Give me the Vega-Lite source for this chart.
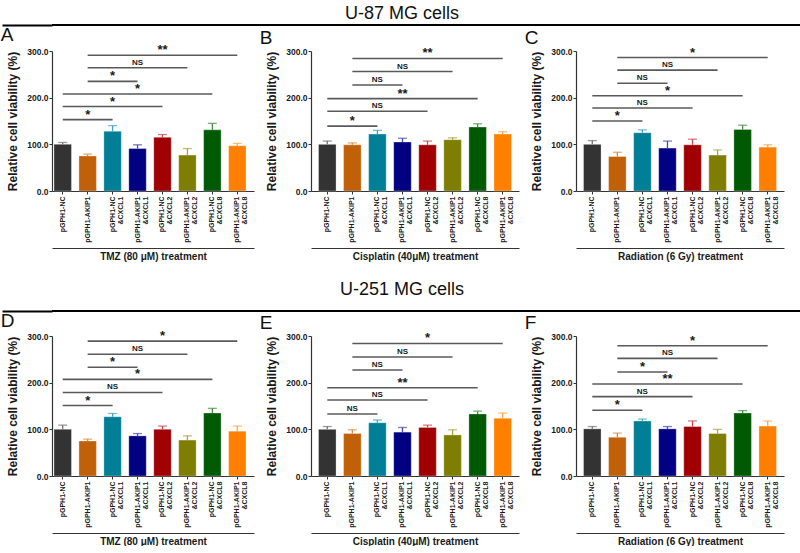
{
  "$schema": "https://vega.github.io/schema/vega-lite/v6.json",
  "padding": 0,
  "background": "white",
  "columns": 1,
  "spacing": 0,
  "config": {
    "font": "Liberation Sans",
    "view": {"stroke": null},
    "scale": {"bandPaddingInner": 0.3, "bandPaddingOuter": 0.3},
    "axis": {"domainColor": "#333333", "domainWidth": 1.2, "tickColor": "#333333", "labelColor": "#1a1a1a", "titleColor": "#1a1a1a", "labelFontWeight": "bold", "titleFontWeight": "bold", "grid": false, "labelFont": "Liberation Sans", "titleFont": "Liberation Sans"},
    "axisY": {"labelFontSize": 8.5, "titleFontSize": 12, "tickSize": 3, "labelPadding": 1, "titlePadding": 7},
    "bar": {"stroke": "#ffffff", "strokeOpacity": 0.3, "strokeWidth": 1},
    "title": {"fontSize": 19, "fontWeight": "normal", "anchor": "start", "frame": "bounds", "offset": -1, "dx": -6, "color": "#111111", "font": "Liberation Sans"},
    "text": {"font": "Liberation Sans"}
  },
  "datasets": {
    "bars": [
      {"p":"A","g":"pGPH1-NC","v":100,"hi":104},
      {"p":"A","g":"pGPH1-AKIP1","v":75,"hi":79},
      {"p":"A","g":"pGPH1-NC|&CXCL1","v":128,"hi":140},
      {"p":"A","g":"pGPH1-AKIP1|&CXCL1","v":91,"hi":99},
      {"p":"A","g":"pGPH1-NC|&CXCL2","v":115,"hi":121},
      {"p":"A","g":"pGPH1-AKIP1|&CXCL2","v":77,"hi":91},
      {"p":"A","g":"pGPH1-NC|&CXCL8","v":131,"hi":145},
      {"p":"A","g":"pGPH1-AKIP1|&CXCL8","v":97,"hi":102},
      {"p":"B","g":"pGPH1-NC","v":100,"hi":107},
      {"p":"B","g":"pGPH1-AKIP1","v":99,"hi":103},
      {"p":"B","g":"pGPH1-NC|&CXCL1","v":122,"hi":130},
      {"p":"B","g":"pGPH1-AKIP1|&CXCL1","v":105,"hi":113},
      {"p":"B","g":"pGPH1-NC|&CXCL2","v":99,"hi":107},
      {"p":"B","g":"pGPH1-AKIP1|&CXCL2","v":110,"hi":114},
      {"p":"B","g":"pGPH1-NC|&CXCL8","v":137,"hi":144},
      {"p":"B","g":"pGPH1-AKIP1|&CXCL8","v":122,"hi":127},
      {"p":"C","g":"pGPH1-NC","v":100,"hi":108},
      {"p":"C","g":"pGPH1-AKIP1","v":74,"hi":83},
      {"p":"C","g":"pGPH1-NC|&CXCL1","v":125,"hi":131},
      {"p":"C","g":"pGPH1-AKIP1|&CXCL1","v":92,"hi":107},
      {"p":"C","g":"pGPH1-NC|&CXCL2","v":99,"hi":111},
      {"p":"C","g":"pGPH1-AKIP1|&CXCL2","v":77,"hi":88},
      {"p":"C","g":"pGPH1-NC|&CXCL8","v":132,"hi":141},
      {"p":"C","g":"pGPH1-AKIP1|&CXCL8","v":94,"hi":99},
      {"p":"D","g":"pGPH1-NC","v":100,"hi":109},
      {"p":"D","g":"pGPH1-AKIP1","v":75,"hi":79},
      {"p":"D","g":"pGPH1-NC|&CXCL1","v":127,"hi":134},
      {"p":"D","g":"pGPH1-AKIP1|&CXCL1","v":86,"hi":91},
      {"p":"D","g":"pGPH1-NC|&CXCL2","v":100,"hi":107},
      {"p":"D","g":"pGPH1-AKIP1|&CXCL2","v":77,"hi":86},
      {"p":"D","g":"pGPH1-NC|&CXCL8","v":135,"hi":145},
      {"p":"D","g":"pGPH1-AKIP1|&CXCL8","v":96,"hi":107},
      {"p":"E","g":"pGPH1-NC","v":100,"hi":106},
      {"p":"E","g":"pGPH1-AKIP1","v":91,"hi":99},
      {"p":"E","g":"pGPH1-NC|&CXCL1","v":114,"hi":120},
      {"p":"E","g":"pGPH1-AKIP1|&CXCL1","v":94,"hi":104},
      {"p":"E","g":"pGPH1-NC|&CXCL2","v":104,"hi":109},
      {"p":"E","g":"pGPH1-AKIP1|&CXCL2","v":88,"hi":99},
      {"p":"E","g":"pGPH1-NC|&CXCL8","v":133,"hi":139},
      {"p":"E","g":"pGPH1-AKIP1|&CXCL8","v":124,"hi":135},
      {"p":"F","g":"pGPH1-NC","v":101,"hi":106},
      {"p":"F","g":"pGPH1-AKIP1","v":83,"hi":92},
      {"p":"F","g":"pGPH1-NC|&CXCL1","v":118,"hi":122},
      {"p":"F","g":"pGPH1-AKIP1|&CXCL1","v":101,"hi":106},
      {"p":"F","g":"pGPH1-NC|&CXCL2","v":106,"hi":118},
      {"p":"F","g":"pGPH1-AKIP1|&CXCL2","v":91,"hi":100},
      {"p":"F","g":"pGPH1-NC|&CXCL8","v":135,"hi":140},
      {"p":"F","g":"pGPH1-AKIP1|&CXCL8","v":107,"hi":118}
    ],
    "sig": [
      {"p":"A","a":"pGPH1-NC","b":"pGPH1-NC|&CXCL1","m":"pGPH1-AKIP1","y":153,"s":"*"},
      {"p":"A","a":"pGPH1-NC","b":"pGPH1-NC|&CXCL2","m":"pGPH1-NC|&CXCL1","y":181,"s":"*"},
      {"p":"A","a":"pGPH1-NC","b":"pGPH1-NC|&CXCL8","m":"pGPH1-AKIP1|&CXCL1","y":208,"s":"*"},
      {"p":"A","a":"pGPH1-AKIP1","b":"pGPH1-AKIP1|&CXCL1","m":"pGPH1-NC|&CXCL1","y":235,"s":"*"},
      {"p":"A","a":"pGPH1-AKIP1","b":"pGPH1-AKIP1|&CXCL2","m":"pGPH1-AKIP1|&CXCL1","y":264,"s":"NS"},
      {"p":"A","a":"pGPH1-AKIP1","b":"pGPH1-AKIP1|&CXCL8","m":"pGPH1-NC|&CXCL2","y":291,"s":"**"},
      {"p":"B","a":"pGPH1-NC","b":"pGPH1-NC|&CXCL1","m":"pGPH1-AKIP1","y":139,"s":"*"},
      {"p":"B","a":"pGPH1-NC","b":"pGPH1-NC|&CXCL2","m":"pGPH1-NC|&CXCL1","y":171,"s":"NS"},
      {"p":"B","a":"pGPH1-NC","b":"pGPH1-NC|&CXCL8","m":"pGPH1-AKIP1|&CXCL1","y":198,"s":"**"},
      {"p":"B","a":"pGPH1-AKIP1","b":"pGPH1-AKIP1|&CXCL1","m":"pGPH1-NC|&CXCL1","y":227,"s":"NS"},
      {"p":"B","a":"pGPH1-AKIP1","b":"pGPH1-AKIP1|&CXCL2","m":"pGPH1-AKIP1|&CXCL1","y":256,"s":"NS"},
      {"p":"B","a":"pGPH1-AKIP1","b":"pGPH1-AKIP1|&CXCL8","m":"pGPH1-NC|&CXCL2","y":284,"s":"**"},
      {"p":"C","a":"pGPH1-NC","b":"pGPH1-NC|&CXCL1","m":"pGPH1-AKIP1","y":150,"s":"*"},
      {"p":"C","a":"pGPH1-NC","b":"pGPH1-NC|&CXCL2","m":"pGPH1-NC|&CXCL1","y":178,"s":"NS"},
      {"p":"C","a":"pGPH1-NC","b":"pGPH1-NC|&CXCL8","m":"pGPH1-AKIP1|&CXCL1","y":204,"s":"*"},
      {"p":"C","a":"pGPH1-AKIP1","b":"pGPH1-AKIP1|&CXCL1","m":"pGPH1-NC|&CXCL1","y":231,"s":"NS"},
      {"p":"C","a":"pGPH1-AKIP1","b":"pGPH1-AKIP1|&CXCL2","m":"pGPH1-AKIP1|&CXCL1","y":259,"s":"NS"},
      {"p":"C","a":"pGPH1-AKIP1","b":"pGPH1-AKIP1|&CXCL8","m":"pGPH1-NC|&CXCL2","y":286,"s":"*"},
      {"p":"D","a":"pGPH1-NC","b":"pGPH1-NC|&CXCL1","m":"pGPH1-AKIP1","y":151,"s":"*"},
      {"p":"D","a":"pGPH1-NC","b":"pGPH1-NC|&CXCL2","m":"pGPH1-NC|&CXCL1","y":179,"s":"NS"},
      {"p":"D","a":"pGPH1-NC","b":"pGPH1-NC|&CXCL8","m":"pGPH1-AKIP1|&CXCL1","y":207,"s":"*"},
      {"p":"D","a":"pGPH1-AKIP1","b":"pGPH1-AKIP1|&CXCL1","m":"pGPH1-NC|&CXCL1","y":233,"s":"*"},
      {"p":"D","a":"pGPH1-AKIP1","b":"pGPH1-AKIP1|&CXCL2","m":"pGPH1-AKIP1|&CXCL1","y":261,"s":"NS"},
      {"p":"D","a":"pGPH1-AKIP1","b":"pGPH1-AKIP1|&CXCL8","m":"pGPH1-NC|&CXCL2","y":289,"s":"*"},
      {"p":"E","a":"pGPH1-NC","b":"pGPH1-NC|&CXCL1","m":"pGPH1-AKIP1","y":133,"s":"NS"},
      {"p":"E","a":"pGPH1-NC","b":"pGPH1-NC|&CXCL2","m":"pGPH1-NC|&CXCL1","y":163,"s":"NS"},
      {"p":"E","a":"pGPH1-NC","b":"pGPH1-NC|&CXCL8","m":"pGPH1-AKIP1|&CXCL1","y":189,"s":"**"},
      {"p":"E","a":"pGPH1-AKIP1","b":"pGPH1-AKIP1|&CXCL1","m":"pGPH1-NC|&CXCL1","y":227,"s":"NS"},
      {"p":"E","a":"pGPH1-AKIP1","b":"pGPH1-AKIP1|&CXCL2","m":"pGPH1-AKIP1|&CXCL1","y":255,"s":"NS"},
      {"p":"E","a":"pGPH1-AKIP1","b":"pGPH1-AKIP1|&CXCL8","m":"pGPH1-NC|&CXCL2","y":284,"s":"*"},
      {"p":"F","a":"pGPH1-NC","b":"pGPH1-NC|&CXCL1","m":"pGPH1-AKIP1","y":141,"s":"*"},
      {"p":"F","a":"pGPH1-NC","b":"pGPH1-NC|&CXCL2","m":"pGPH1-NC|&CXCL1","y":170,"s":"NS"},
      {"p":"F","a":"pGPH1-NC","b":"pGPH1-NC|&CXCL8","m":"pGPH1-AKIP1|&CXCL1","y":197,"s":"**"},
      {"p":"F","a":"pGPH1-AKIP1","b":"pGPH1-AKIP1|&CXCL1","m":"pGPH1-NC|&CXCL1","y":223,"s":"*"},
      {"p":"F","a":"pGPH1-AKIP1","b":"pGPH1-AKIP1|&CXCL2","m":"pGPH1-AKIP1|&CXCL1","y":252,"s":"NS"},
      {"p":"F","a":"pGPH1-AKIP1","b":"pGPH1-AKIP1|&CXCL8","m":"pGPH1-NC|&CXCL2","y":279,"s":"*"}
    ]
  },
  "concat": [
    {
      "width": 750, "height": 25,
      "data": {"values": [{"t": "U-87 MG cells"}]},
      "layer": [
        {"mark": {"type": "text", "fontSize": 18, "dy": 1, "dx": -25, "color": "#111111"}, "encoding": {"text": {"field": "t"}}},
        {"mark": {"type": "rule", "color": "#000000", "strokeWidth": 2}, "encoding": {"y": {"datum": 0, "type": "quantitative", "scale": {"domain": [0, 1]}, "axis": {"values": [0], "tickSize": 50, "tickWidth": 2, "tickColor": "#000000", "domain": false, "labels": false, "title": null}}}}
      ]
    },
    {
      "spacing": 5,
      "hconcat": [
        {"title": {"text": "A"}, "width": 202, "height": 140, "resolve": {"axis": {"x": "independent", "y": "independent"}, "scale": {"color": "independent"}},
          "layer": [
            {"data": {"name": "bars"}, "transform": [{"filter": "datum.p === 'A'"}], "mark": {"type": "bar"},
             "encoding": {"x": {"field": "g", "type": "nominal", "scale": {"domain": ["pGPH1-NC","pGPH1-AKIP1","pGPH1-NC|&CXCL1","pGPH1-AKIP1|&CXCL1","pGPH1-NC|&CXCL2","pGPH1-AKIP1|&CXCL2","pGPH1-NC|&CXCL8","pGPH1-AKIP1|&CXCL8"], "paddingOuter": 0.2, "align": 0.2}, "axis": {"title": null, "labelAngle": 270, "labelAlign": "right", "labelBaseline": "middle", "labelFontSize": 7, "labelLineHeight": 8, "labelExpr": "split(datum.label, '|')", "labelOverlap": false, "tickSize": 3, "labelPadding": 2}},
                          "y": {"field": "v", "type": "quantitative", "scale": {"domain": [0, 300], "nice": false}, "axis": {"title": "Relative cell viability (%)", "values": [0, 100, 200, 300], "format": ".1f"}},
                          "color": {"field": "g", "type": "nominal", "scale": {"domain": ["pGPH1-NC","pGPH1-AKIP1","pGPH1-NC|&CXCL1","pGPH1-AKIP1|&CXCL1","pGPH1-NC|&CXCL2","pGPH1-AKIP1|&CXCL2","pGPH1-NC|&CXCL8","pGPH1-AKIP1|&CXCL8"], "range": ["#333333","#C06008","#007F96","#000082","#A00004","#7E7E04","#005A04","#FF8000"]}, "legend": null}}},
            {"data": {"name": "bars"}, "transform": [{"filter": "datum.p === 'A'"}], "mark": {"type": "rule", "strokeWidth": 1.3},
             "encoding": {"x": {"field": "g", "type": "nominal", "scale": {"domain": ["pGPH1-NC","pGPH1-AKIP1","pGPH1-NC|&CXCL1","pGPH1-AKIP1|&CXCL1","pGPH1-NC|&CXCL2","pGPH1-AKIP1|&CXCL2","pGPH1-NC|&CXCL8","pGPH1-AKIP1|&CXCL8"], "paddingOuter": 0.2, "align": 0.2}, "axis": null},
                          "y": {"field": "v", "type": "quantitative", "scale": {"domain": [0, 300], "nice": false}, "axis": null}, "y2": {"field": "hi"},
                          "color": {"field": "g", "type": "nominal", "scale": {"domain": ["pGPH1-NC","pGPH1-AKIP1","pGPH1-NC|&CXCL1","pGPH1-AKIP1|&CXCL1","pGPH1-NC|&CXCL2","pGPH1-AKIP1|&CXCL2","pGPH1-NC|&CXCL8","pGPH1-AKIP1|&CXCL8"], "range": ["#707070","#D88A44","#40A2B6","#4646B0","#C4464C","#A4A444","#448C44","#FFA448"]}, "legend": null}}},
            {"data": {"name": "bars"}, "transform": [{"filter": "datum.p === 'A'"}], "mark": {"type": "tick", "size": 9, "thickness": 1.3},
             "encoding": {"x": {"field": "g", "type": "nominal", "scale": {"domain": ["pGPH1-NC","pGPH1-AKIP1","pGPH1-NC|&CXCL1","pGPH1-AKIP1|&CXCL1","pGPH1-NC|&CXCL2","pGPH1-AKIP1|&CXCL2","pGPH1-NC|&CXCL8","pGPH1-AKIP1|&CXCL8"], "paddingOuter": 0.2, "align": 0.2}, "axis": null},
                          "y": {"field": "hi", "type": "quantitative", "scale": {"domain": [0, 300], "nice": false}, "axis": null},
                          "color": {"field": "g", "type": "nominal", "scale": {"domain": ["pGPH1-NC","pGPH1-AKIP1","pGPH1-NC|&CXCL1","pGPH1-AKIP1|&CXCL1","pGPH1-NC|&CXCL2","pGPH1-AKIP1|&CXCL2","pGPH1-NC|&CXCL8","pGPH1-AKIP1|&CXCL8"], "range": ["#707070","#D88A44","#40A2B6","#4646B0","#C4464C","#A4A444","#448C44","#FFA448"]}, "legend": null}}},
            {"data": {"name": "sig"}, "transform": [{"filter": "datum.p === 'A'"}], "mark": {"type": "rule", "color": "#5a5a5a", "strokeWidth": 1.6},
             "encoding": {"x": {"field": "a", "type": "nominal", "scale": {"domain": ["pGPH1-NC","pGPH1-AKIP1","pGPH1-NC|&CXCL1","pGPH1-AKIP1|&CXCL1","pGPH1-NC|&CXCL2","pGPH1-AKIP1|&CXCL2","pGPH1-NC|&CXCL8","pGPH1-AKIP1|&CXCL8"], "paddingOuter": 0.2, "align": 0.2}, "axis": {"orient": "bottom", "offset": 57, "labels": false, "ticks": false, "title": "TMZ (80 μM) treatment", "titleFontSize": 10, "titlePadding": 3}},
                          "x2": {"field": "b"},
                          "y": {"field": "y", "type": "quantitative", "scale": {"domain": [0, 300], "nice": false}, "axis": null}}},
            {"data": {"name": "sig"}, "transform": [{"filter": "datum.p === 'A'"}], "mark": {"type": "text", "fontWeight": "bold", "baseline": "middle", "dy": -5, "color": "#1a1a1a"},
             "encoding": {"x": {"field": "m", "type": "nominal", "scale": {"domain": ["pGPH1-NC","pGPH1-AKIP1","pGPH1-NC|&CXCL1","pGPH1-AKIP1|&CXCL1","pGPH1-NC|&CXCL2","pGPH1-AKIP1|&CXCL2","pGPH1-NC|&CXCL8","pGPH1-AKIP1|&CXCL8"], "paddingOuter": 0.2, "align": 0.2}, "axis": null},
                          "y": {"field": "y", "type": "quantitative", "scale": {"domain": [0, 300], "nice": false}, "axis": null},
                          "text": {"field": "s"},
                          "size": {"field": "s", "type": "nominal", "scale": {"type": "ordinal", "domain": ["*", "**", "NS"], "range": [13, 13, 8]}, "legend": null}}}
          ]
        },
        {"title": {"text": "B"}, "width": 208, "height": 140, "resolve": {"axis": {"x": "independent", "y": "independent"}, "scale": {"color": "independent"}},
          "layer": [
            {"data": {"name": "bars"}, "transform": [{"filter": "datum.p === 'B'"}], "mark": {"type": "bar"},
             "encoding": {"x": {"field": "g", "type": "nominal", "scale": {"domain": ["pGPH1-NC","pGPH1-AKIP1","pGPH1-NC|&CXCL1","pGPH1-AKIP1|&CXCL1","pGPH1-NC|&CXCL2","pGPH1-AKIP1|&CXCL2","pGPH1-NC|&CXCL8","pGPH1-AKIP1|&CXCL8"]}, "axis": {"title": null, "labelAngle": 270, "labelAlign": "right", "labelBaseline": "middle", "labelFontSize": 7, "labelLineHeight": 8, "labelExpr": "split(datum.label, '|')", "labelOverlap": false, "tickSize": 3, "labelPadding": 2}},
                          "y": {"field": "v", "type": "quantitative", "scale": {"domain": [0, 300], "nice": false}, "axis": {"title": "Relative cell viability (%)", "values": [0, 100, 200, 300], "format": ".1f"}},
                          "color": {"field": "g", "type": "nominal", "scale": {"domain": ["pGPH1-NC","pGPH1-AKIP1","pGPH1-NC|&CXCL1","pGPH1-AKIP1|&CXCL1","pGPH1-NC|&CXCL2","pGPH1-AKIP1|&CXCL2","pGPH1-NC|&CXCL8","pGPH1-AKIP1|&CXCL8"], "range": ["#333333","#C06008","#007F96","#000082","#A00004","#7E7E04","#005A04","#FF8000"]}, "legend": null}}},
            {"data": {"name": "bars"}, "transform": [{"filter": "datum.p === 'B'"}], "mark": {"type": "rule", "strokeWidth": 1.3},
             "encoding": {"x": {"field": "g", "type": "nominal", "scale": {"domain": ["pGPH1-NC","pGPH1-AKIP1","pGPH1-NC|&CXCL1","pGPH1-AKIP1|&CXCL1","pGPH1-NC|&CXCL2","pGPH1-AKIP1|&CXCL2","pGPH1-NC|&CXCL8","pGPH1-AKIP1|&CXCL8"]}, "axis": null},
                          "y": {"field": "v", "type": "quantitative", "scale": {"domain": [0, 300], "nice": false}, "axis": null}, "y2": {"field": "hi"},
                          "color": {"field": "g", "type": "nominal", "scale": {"domain": ["pGPH1-NC","pGPH1-AKIP1","pGPH1-NC|&CXCL1","pGPH1-AKIP1|&CXCL1","pGPH1-NC|&CXCL2","pGPH1-AKIP1|&CXCL2","pGPH1-NC|&CXCL8","pGPH1-AKIP1|&CXCL8"], "range": ["#707070","#D88A44","#40A2B6","#4646B0","#C4464C","#A4A444","#448C44","#FFA448"]}, "legend": null}}},
            {"data": {"name": "bars"}, "transform": [{"filter": "datum.p === 'B'"}], "mark": {"type": "tick", "size": 9, "thickness": 1.3},
             "encoding": {"x": {"field": "g", "type": "nominal", "scale": {"domain": ["pGPH1-NC","pGPH1-AKIP1","pGPH1-NC|&CXCL1","pGPH1-AKIP1|&CXCL1","pGPH1-NC|&CXCL2","pGPH1-AKIP1|&CXCL2","pGPH1-NC|&CXCL8","pGPH1-AKIP1|&CXCL8"]}, "axis": null},
                          "y": {"field": "hi", "type": "quantitative", "scale": {"domain": [0, 300], "nice": false}, "axis": null},
                          "color": {"field": "g", "type": "nominal", "scale": {"domain": ["pGPH1-NC","pGPH1-AKIP1","pGPH1-NC|&CXCL1","pGPH1-AKIP1|&CXCL1","pGPH1-NC|&CXCL2","pGPH1-AKIP1|&CXCL2","pGPH1-NC|&CXCL8","pGPH1-AKIP1|&CXCL8"], "range": ["#707070","#D88A44","#40A2B6","#4646B0","#C4464C","#A4A444","#448C44","#FFA448"]}, "legend": null}}},
            {"data": {"name": "sig"}, "transform": [{"filter": "datum.p === 'B'"}], "mark": {"type": "rule", "color": "#5a5a5a", "strokeWidth": 1.6},
             "encoding": {"x": {"field": "a", "type": "nominal", "scale": {"domain": ["pGPH1-NC","pGPH1-AKIP1","pGPH1-NC|&CXCL1","pGPH1-AKIP1|&CXCL1","pGPH1-NC|&CXCL2","pGPH1-AKIP1|&CXCL2","pGPH1-NC|&CXCL8","pGPH1-AKIP1|&CXCL8"]}, "axis": {"orient": "bottom", "offset": 57, "labels": false, "ticks": false, "title": "Cisplatin (40μM) treatment", "titleFontSize": 10, "titlePadding": 3}},
                          "x2": {"field": "b"},
                          "y": {"field": "y", "type": "quantitative", "scale": {"domain": [0, 300], "nice": false}, "axis": null}}},
            {"data": {"name": "sig"}, "transform": [{"filter": "datum.p === 'B'"}], "mark": {"type": "text", "fontWeight": "bold", "baseline": "middle", "dy": -5, "color": "#1a1a1a"},
             "encoding": {"x": {"field": "m", "type": "nominal", "scale": {"domain": ["pGPH1-NC","pGPH1-AKIP1","pGPH1-NC|&CXCL1","pGPH1-AKIP1|&CXCL1","pGPH1-NC|&CXCL2","pGPH1-AKIP1|&CXCL2","pGPH1-NC|&CXCL8","pGPH1-AKIP1|&CXCL8"]}, "axis": null},
                          "y": {"field": "y", "type": "quantitative", "scale": {"domain": [0, 300], "nice": false}, "axis": null},
                          "text": {"field": "s"},
                          "size": {"field": "s", "type": "nominal", "scale": {"type": "ordinal", "domain": ["*", "**", "NS"], "range": [13, 13, 8]}, "legend": null}}}
          ]
        },
        {"title": {"text": "C"}, "width": 208, "height": 140, "resolve": {"axis": {"x": "independent", "y": "independent"}, "scale": {"color": "independent"}},
          "layer": [
            {"data": {"name": "bars"}, "transform": [{"filter": "datum.p === 'C'"}], "mark": {"type": "bar"},
             "encoding": {"x": {"field": "g", "type": "nominal", "scale": {"domain": ["pGPH1-NC","pGPH1-AKIP1","pGPH1-NC|&CXCL1","pGPH1-AKIP1|&CXCL1","pGPH1-NC|&CXCL2","pGPH1-AKIP1|&CXCL2","pGPH1-NC|&CXCL8","pGPH1-AKIP1|&CXCL8"]}, "axis": {"title": null, "labelAngle": 270, "labelAlign": "right", "labelBaseline": "middle", "labelFontSize": 7, "labelLineHeight": 8, "labelExpr": "split(datum.label, '|')", "labelOverlap": false, "tickSize": 3, "labelPadding": 2}},
                          "y": {"field": "v", "type": "quantitative", "scale": {"domain": [0, 300], "nice": false}, "axis": {"title": "Relative cell viability (%)", "values": [0, 100, 200, 300], "format": ".1f"}},
                          "color": {"field": "g", "type": "nominal", "scale": {"domain": ["pGPH1-NC","pGPH1-AKIP1","pGPH1-NC|&CXCL1","pGPH1-AKIP1|&CXCL1","pGPH1-NC|&CXCL2","pGPH1-AKIP1|&CXCL2","pGPH1-NC|&CXCL8","pGPH1-AKIP1|&CXCL8"], "range": ["#333333","#C06008","#007F96","#000082","#A00004","#7E7E04","#005A04","#FF8000"]}, "legend": null}}},
            {"data": {"name": "bars"}, "transform": [{"filter": "datum.p === 'C'"}], "mark": {"type": "rule", "strokeWidth": 1.3},
             "encoding": {"x": {"field": "g", "type": "nominal", "scale": {"domain": ["pGPH1-NC","pGPH1-AKIP1","pGPH1-NC|&CXCL1","pGPH1-AKIP1|&CXCL1","pGPH1-NC|&CXCL2","pGPH1-AKIP1|&CXCL2","pGPH1-NC|&CXCL8","pGPH1-AKIP1|&CXCL8"]}, "axis": null},
                          "y": {"field": "v", "type": "quantitative", "scale": {"domain": [0, 300], "nice": false}, "axis": null}, "y2": {"field": "hi"},
                          "color": {"field": "g", "type": "nominal", "scale": {"domain": ["pGPH1-NC","pGPH1-AKIP1","pGPH1-NC|&CXCL1","pGPH1-AKIP1|&CXCL1","pGPH1-NC|&CXCL2","pGPH1-AKIP1|&CXCL2","pGPH1-NC|&CXCL8","pGPH1-AKIP1|&CXCL8"], "range": ["#707070","#D88A44","#40A2B6","#4646B0","#C4464C","#A4A444","#448C44","#FFA448"]}, "legend": null}}},
            {"data": {"name": "bars"}, "transform": [{"filter": "datum.p === 'C'"}], "mark": {"type": "tick", "size": 9, "thickness": 1.3},
             "encoding": {"x": {"field": "g", "type": "nominal", "scale": {"domain": ["pGPH1-NC","pGPH1-AKIP1","pGPH1-NC|&CXCL1","pGPH1-AKIP1|&CXCL1","pGPH1-NC|&CXCL2","pGPH1-AKIP1|&CXCL2","pGPH1-NC|&CXCL8","pGPH1-AKIP1|&CXCL8"]}, "axis": null},
                          "y": {"field": "hi", "type": "quantitative", "scale": {"domain": [0, 300], "nice": false}, "axis": null},
                          "color": {"field": "g", "type": "nominal", "scale": {"domain": ["pGPH1-NC","pGPH1-AKIP1","pGPH1-NC|&CXCL1","pGPH1-AKIP1|&CXCL1","pGPH1-NC|&CXCL2","pGPH1-AKIP1|&CXCL2","pGPH1-NC|&CXCL8","pGPH1-AKIP1|&CXCL8"], "range": ["#707070","#D88A44","#40A2B6","#4646B0","#C4464C","#A4A444","#448C44","#FFA448"]}, "legend": null}}},
            {"data": {"name": "sig"}, "transform": [{"filter": "datum.p === 'C'"}], "mark": {"type": "rule", "color": "#5a5a5a", "strokeWidth": 1.6},
             "encoding": {"x": {"field": "a", "type": "nominal", "scale": {"domain": ["pGPH1-NC","pGPH1-AKIP1","pGPH1-NC|&CXCL1","pGPH1-AKIP1|&CXCL1","pGPH1-NC|&CXCL2","pGPH1-AKIP1|&CXCL2","pGPH1-NC|&CXCL8","pGPH1-AKIP1|&CXCL8"]}, "axis": {"orient": "bottom", "offset": 57, "labels": false, "ticks": false, "title": "Radiation (6 Gy)  treatment", "titleFontSize": 10, "titlePadding": 3}},
                          "x2": {"field": "b"},
                          "y": {"field": "y", "type": "quantitative", "scale": {"domain": [0, 300], "nice": false}, "axis": null}}},
            {"data": {"name": "sig"}, "transform": [{"filter": "datum.p === 'C'"}], "mark": {"type": "text", "fontWeight": "bold", "baseline": "middle", "dy": -5, "color": "#1a1a1a"},
             "encoding": {"x": {"field": "m", "type": "nominal", "scale": {"domain": ["pGPH1-NC","pGPH1-AKIP1","pGPH1-NC|&CXCL1","pGPH1-AKIP1|&CXCL1","pGPH1-NC|&CXCL2","pGPH1-AKIP1|&CXCL2","pGPH1-NC|&CXCL8","pGPH1-AKIP1|&CXCL8"]}, "axis": null},
                          "y": {"field": "y", "type": "quantitative", "scale": {"domain": [0, 300], "nice": false}, "axis": null},
                          "text": {"field": "s"},
                          "size": {"field": "s", "type": "nominal", "scale": {"type": "ordinal", "domain": ["*", "**", "NS"], "range": [13, 13, 8]}, "legend": null}}}
          ]
        }
      ]
    },
    {
      "width": 750, "height": 50,
      "data": {"values": [{"t": "U-251 MG cells"}]},
      "layer": [
        {"mark": {"type": "text", "fontSize": 18, "dy": 4, "dx": -25, "color": "#111111"}, "encoding": {"text": {"field": "t"}}},
        {"mark": {"type": "rule", "color": "#000000", "strokeWidth": 2}, "encoding": {"y": {"datum": 0, "type": "quantitative", "scale": {"domain": [0, 1]}, "axis": {"values": [0], "tickSize": 50, "tickWidth": 2, "tickColor": "#000000", "domain": false, "labels": false, "title": null}}}}
      ]
    },
    {
      "spacing": 5,
      "hconcat": [
        {"title": {"text": "D"}, "width": 202, "height": 140, "resolve": {"axis": {"x": "independent", "y": "independent"}, "scale": {"color": "independent"}},
          "layer": [
            {"data": {"name": "bars"}, "transform": [{"filter": "datum.p === 'D'"}], "mark": {"type": "bar"},
             "encoding": {"x": {"field": "g", "type": "nominal", "scale": {"domain": ["pGPH1-NC","pGPH1-AKIP1","pGPH1-NC|&CXCL1","pGPH1-AKIP1|&CXCL1","pGPH1-NC|&CXCL2","pGPH1-AKIP1|&CXCL2","pGPH1-NC|&CXCL8","pGPH1-AKIP1|&CXCL8"], "paddingOuter": 0.2, "align": 0.2}, "axis": {"title": null, "labelAngle": 270, "labelAlign": "right", "labelBaseline": "middle", "labelFontSize": 7, "labelLineHeight": 8, "labelExpr": "split(datum.label, '|')", "labelOverlap": false, "tickSize": 3, "labelPadding": 2}},
                          "y": {"field": "v", "type": "quantitative", "scale": {"domain": [0, 300], "nice": false}, "axis": {"title": "Relative cell viability (%)", "values": [0, 100, 200, 300], "format": ".1f"}},
                          "color": {"field": "g", "type": "nominal", "scale": {"domain": ["pGPH1-NC","pGPH1-AKIP1","pGPH1-NC|&CXCL1","pGPH1-AKIP1|&CXCL1","pGPH1-NC|&CXCL2","pGPH1-AKIP1|&CXCL2","pGPH1-NC|&CXCL8","pGPH1-AKIP1|&CXCL8"], "range": ["#333333","#C06008","#007F96","#000082","#A00004","#7E7E04","#005A04","#FF8000"]}, "legend": null}}},
            {"data": {"name": "bars"}, "transform": [{"filter": "datum.p === 'D'"}], "mark": {"type": "rule", "strokeWidth": 1.3},
             "encoding": {"x": {"field": "g", "type": "nominal", "scale": {"domain": ["pGPH1-NC","pGPH1-AKIP1","pGPH1-NC|&CXCL1","pGPH1-AKIP1|&CXCL1","pGPH1-NC|&CXCL2","pGPH1-AKIP1|&CXCL2","pGPH1-NC|&CXCL8","pGPH1-AKIP1|&CXCL8"], "paddingOuter": 0.2, "align": 0.2}, "axis": null},
                          "y": {"field": "v", "type": "quantitative", "scale": {"domain": [0, 300], "nice": false}, "axis": null}, "y2": {"field": "hi"},
                          "color": {"field": "g", "type": "nominal", "scale": {"domain": ["pGPH1-NC","pGPH1-AKIP1","pGPH1-NC|&CXCL1","pGPH1-AKIP1|&CXCL1","pGPH1-NC|&CXCL2","pGPH1-AKIP1|&CXCL2","pGPH1-NC|&CXCL8","pGPH1-AKIP1|&CXCL8"], "range": ["#707070","#D88A44","#40A2B6","#4646B0","#C4464C","#A4A444","#448C44","#FFA448"]}, "legend": null}}},
            {"data": {"name": "bars"}, "transform": [{"filter": "datum.p === 'D'"}], "mark": {"type": "tick", "size": 9, "thickness": 1.3},
             "encoding": {"x": {"field": "g", "type": "nominal", "scale": {"domain": ["pGPH1-NC","pGPH1-AKIP1","pGPH1-NC|&CXCL1","pGPH1-AKIP1|&CXCL1","pGPH1-NC|&CXCL2","pGPH1-AKIP1|&CXCL2","pGPH1-NC|&CXCL8","pGPH1-AKIP1|&CXCL8"], "paddingOuter": 0.2, "align": 0.2}, "axis": null},
                          "y": {"field": "hi", "type": "quantitative", "scale": {"domain": [0, 300], "nice": false}, "axis": null},
                          "color": {"field": "g", "type": "nominal", "scale": {"domain": ["pGPH1-NC","pGPH1-AKIP1","pGPH1-NC|&CXCL1","pGPH1-AKIP1|&CXCL1","pGPH1-NC|&CXCL2","pGPH1-AKIP1|&CXCL2","pGPH1-NC|&CXCL8","pGPH1-AKIP1|&CXCL8"], "range": ["#707070","#D88A44","#40A2B6","#4646B0","#C4464C","#A4A444","#448C44","#FFA448"]}, "legend": null}}},
            {"data": {"name": "sig"}, "transform": [{"filter": "datum.p === 'D'"}], "mark": {"type": "rule", "color": "#5a5a5a", "strokeWidth": 1.6},
             "encoding": {"x": {"field": "a", "type": "nominal", "scale": {"domain": ["pGPH1-NC","pGPH1-AKIP1","pGPH1-NC|&CXCL1","pGPH1-AKIP1|&CXCL1","pGPH1-NC|&CXCL2","pGPH1-AKIP1|&CXCL2","pGPH1-NC|&CXCL8","pGPH1-AKIP1|&CXCL8"], "paddingOuter": 0.2, "align": 0.2}, "axis": {"orient": "bottom", "offset": 57, "labels": false, "ticks": false, "title": "TMZ (80 μM) treatment", "titleFontSize": 10, "titlePadding": 3}},
                          "x2": {"field": "b"},
                          "y": {"field": "y", "type": "quantitative", "scale": {"domain": [0, 300], "nice": false}, "axis": null}}},
            {"data": {"name": "sig"}, "transform": [{"filter": "datum.p === 'D'"}], "mark": {"type": "text", "fontWeight": "bold", "baseline": "middle", "dy": -5, "color": "#1a1a1a"},
             "encoding": {"x": {"field": "m", "type": "nominal", "scale": {"domain": ["pGPH1-NC","pGPH1-AKIP1","pGPH1-NC|&CXCL1","pGPH1-AKIP1|&CXCL1","pGPH1-NC|&CXCL2","pGPH1-AKIP1|&CXCL2","pGPH1-NC|&CXCL8","pGPH1-AKIP1|&CXCL8"], "paddingOuter": 0.2, "align": 0.2}, "axis": null},
                          "y": {"field": "y", "type": "quantitative", "scale": {"domain": [0, 300], "nice": false}, "axis": null},
                          "text": {"field": "s"},
                          "size": {"field": "s", "type": "nominal", "scale": {"type": "ordinal", "domain": ["*", "**", "NS"], "range": [13, 13, 8]}, "legend": null}}}
          ]
        },
        {"title": {"text": "E"}, "width": 208, "height": 140, "resolve": {"axis": {"x": "independent", "y": "independent"}, "scale": {"color": "independent"}},
          "layer": [
            {"data": {"name": "bars"}, "transform": [{"filter": "datum.p === 'E'"}], "mark": {"type": "bar"},
             "encoding": {"x": {"field": "g", "type": "nominal", "scale": {"domain": ["pGPH1-NC","pGPH1-AKIP1","pGPH1-NC|&CXCL1","pGPH1-AKIP1|&CXCL1","pGPH1-NC|&CXCL2","pGPH1-AKIP1|&CXCL2","pGPH1-NC|&CXCL8","pGPH1-AKIP1|&CXCL8"]}, "axis": {"title": null, "labelAngle": 270, "labelAlign": "right", "labelBaseline": "middle", "labelFontSize": 7, "labelLineHeight": 8, "labelExpr": "split(datum.label, '|')", "labelOverlap": false, "tickSize": 3, "labelPadding": 2}},
                          "y": {"field": "v", "type": "quantitative", "scale": {"domain": [0, 300], "nice": false}, "axis": {"title": "Relative cell viability (%)", "values": [0, 100, 200, 300], "format": ".1f"}},
                          "color": {"field": "g", "type": "nominal", "scale": {"domain": ["pGPH1-NC","pGPH1-AKIP1","pGPH1-NC|&CXCL1","pGPH1-AKIP1|&CXCL1","pGPH1-NC|&CXCL2","pGPH1-AKIP1|&CXCL2","pGPH1-NC|&CXCL8","pGPH1-AKIP1|&CXCL8"], "range": ["#333333","#C06008","#007F96","#000082","#A00004","#7E7E04","#005A04","#FF8000"]}, "legend": null}}},
            {"data": {"name": "bars"}, "transform": [{"filter": "datum.p === 'E'"}], "mark": {"type": "rule", "strokeWidth": 1.3},
             "encoding": {"x": {"field": "g", "type": "nominal", "scale": {"domain": ["pGPH1-NC","pGPH1-AKIP1","pGPH1-NC|&CXCL1","pGPH1-AKIP1|&CXCL1","pGPH1-NC|&CXCL2","pGPH1-AKIP1|&CXCL2","pGPH1-NC|&CXCL8","pGPH1-AKIP1|&CXCL8"]}, "axis": null},
                          "y": {"field": "v", "type": "quantitative", "scale": {"domain": [0, 300], "nice": false}, "axis": null}, "y2": {"field": "hi"},
                          "color": {"field": "g", "type": "nominal", "scale": {"domain": ["pGPH1-NC","pGPH1-AKIP1","pGPH1-NC|&CXCL1","pGPH1-AKIP1|&CXCL1","pGPH1-NC|&CXCL2","pGPH1-AKIP1|&CXCL2","pGPH1-NC|&CXCL8","pGPH1-AKIP1|&CXCL8"], "range": ["#707070","#D88A44","#40A2B6","#4646B0","#C4464C","#A4A444","#448C44","#FFA448"]}, "legend": null}}},
            {"data": {"name": "bars"}, "transform": [{"filter": "datum.p === 'E'"}], "mark": {"type": "tick", "size": 9, "thickness": 1.3},
             "encoding": {"x": {"field": "g", "type": "nominal", "scale": {"domain": ["pGPH1-NC","pGPH1-AKIP1","pGPH1-NC|&CXCL1","pGPH1-AKIP1|&CXCL1","pGPH1-NC|&CXCL2","pGPH1-AKIP1|&CXCL2","pGPH1-NC|&CXCL8","pGPH1-AKIP1|&CXCL8"]}, "axis": null},
                          "y": {"field": "hi", "type": "quantitative", "scale": {"domain": [0, 300], "nice": false}, "axis": null},
                          "color": {"field": "g", "type": "nominal", "scale": {"domain": ["pGPH1-NC","pGPH1-AKIP1","pGPH1-NC|&CXCL1","pGPH1-AKIP1|&CXCL1","pGPH1-NC|&CXCL2","pGPH1-AKIP1|&CXCL2","pGPH1-NC|&CXCL8","pGPH1-AKIP1|&CXCL8"], "range": ["#707070","#D88A44","#40A2B6","#4646B0","#C4464C","#A4A444","#448C44","#FFA448"]}, "legend": null}}},
            {"data": {"name": "sig"}, "transform": [{"filter": "datum.p === 'E'"}], "mark": {"type": "rule", "color": "#5a5a5a", "strokeWidth": 1.6},
             "encoding": {"x": {"field": "a", "type": "nominal", "scale": {"domain": ["pGPH1-NC","pGPH1-AKIP1","pGPH1-NC|&CXCL1","pGPH1-AKIP1|&CXCL1","pGPH1-NC|&CXCL2","pGPH1-AKIP1|&CXCL2","pGPH1-NC|&CXCL8","pGPH1-AKIP1|&CXCL8"]}, "axis": {"orient": "bottom", "offset": 57, "labels": false, "ticks": false, "title": "Cisplatin (40μM) treatment", "titleFontSize": 10, "titlePadding": 3}},
                          "x2": {"field": "b"},
                          "y": {"field": "y", "type": "quantitative", "scale": {"domain": [0, 300], "nice": false}, "axis": null}}},
            {"data": {"name": "sig"}, "transform": [{"filter": "datum.p === 'E'"}], "mark": {"type": "text", "fontWeight": "bold", "baseline": "middle", "dy": -5, "color": "#1a1a1a"},
             "encoding": {"x": {"field": "m", "type": "nominal", "scale": {"domain": ["pGPH1-NC","pGPH1-AKIP1","pGPH1-NC|&CXCL1","pGPH1-AKIP1|&CXCL1","pGPH1-NC|&CXCL2","pGPH1-AKIP1|&CXCL2","pGPH1-NC|&CXCL8","pGPH1-AKIP1|&CXCL8"]}, "axis": null},
                          "y": {"field": "y", "type": "quantitative", "scale": {"domain": [0, 300], "nice": false}, "axis": null},
                          "text": {"field": "s"},
                          "size": {"field": "s", "type": "nominal", "scale": {"type": "ordinal", "domain": ["*", "**", "NS"], "range": [13, 13, 8]}, "legend": null}}}
          ]
        },
        {"title": {"text": "F"}, "width": 208, "height": 140, "resolve": {"axis": {"x": "independent", "y": "independent"}, "scale": {"color": "independent"}},
          "layer": [
            {"data": {"name": "bars"}, "transform": [{"filter": "datum.p === 'F'"}], "mark": {"type": "bar"},
             "encoding": {"x": {"field": "g", "type": "nominal", "scale": {"domain": ["pGPH1-NC","pGPH1-AKIP1","pGPH1-NC|&CXCL1","pGPH1-AKIP1|&CXCL1","pGPH1-NC|&CXCL2","pGPH1-AKIP1|&CXCL2","pGPH1-NC|&CXCL8","pGPH1-AKIP1|&CXCL8"]}, "axis": {"title": null, "labelAngle": 270, "labelAlign": "right", "labelBaseline": "middle", "labelFontSize": 7, "labelLineHeight": 8, "labelExpr": "split(datum.label, '|')", "labelOverlap": false, "tickSize": 3, "labelPadding": 2}},
                          "y": {"field": "v", "type": "quantitative", "scale": {"domain": [0, 300], "nice": false}, "axis": {"title": "Relative cell viability (%)", "values": [0, 100, 200, 300], "format": ".1f"}},
                          "color": {"field": "g", "type": "nominal", "scale": {"domain": ["pGPH1-NC","pGPH1-AKIP1","pGPH1-NC|&CXCL1","pGPH1-AKIP1|&CXCL1","pGPH1-NC|&CXCL2","pGPH1-AKIP1|&CXCL2","pGPH1-NC|&CXCL8","pGPH1-AKIP1|&CXCL8"], "range": ["#333333","#C06008","#007F96","#000082","#A00004","#7E7E04","#005A04","#FF8000"]}, "legend": null}}},
            {"data": {"name": "bars"}, "transform": [{"filter": "datum.p === 'F'"}], "mark": {"type": "rule", "strokeWidth": 1.3},
             "encoding": {"x": {"field": "g", "type": "nominal", "scale": {"domain": ["pGPH1-NC","pGPH1-AKIP1","pGPH1-NC|&CXCL1","pGPH1-AKIP1|&CXCL1","pGPH1-NC|&CXCL2","pGPH1-AKIP1|&CXCL2","pGPH1-NC|&CXCL8","pGPH1-AKIP1|&CXCL8"]}, "axis": null},
                          "y": {"field": "v", "type": "quantitative", "scale": {"domain": [0, 300], "nice": false}, "axis": null}, "y2": {"field": "hi"},
                          "color": {"field": "g", "type": "nominal", "scale": {"domain": ["pGPH1-NC","pGPH1-AKIP1","pGPH1-NC|&CXCL1","pGPH1-AKIP1|&CXCL1","pGPH1-NC|&CXCL2","pGPH1-AKIP1|&CXCL2","pGPH1-NC|&CXCL8","pGPH1-AKIP1|&CXCL8"], "range": ["#707070","#D88A44","#40A2B6","#4646B0","#C4464C","#A4A444","#448C44","#FFA448"]}, "legend": null}}},
            {"data": {"name": "bars"}, "transform": [{"filter": "datum.p === 'F'"}], "mark": {"type": "tick", "size": 9, "thickness": 1.3},
             "encoding": {"x": {"field": "g", "type": "nominal", "scale": {"domain": ["pGPH1-NC","pGPH1-AKIP1","pGPH1-NC|&CXCL1","pGPH1-AKIP1|&CXCL1","pGPH1-NC|&CXCL2","pGPH1-AKIP1|&CXCL2","pGPH1-NC|&CXCL8","pGPH1-AKIP1|&CXCL8"]}, "axis": null},
                          "y": {"field": "hi", "type": "quantitative", "scale": {"domain": [0, 300], "nice": false}, "axis": null},
                          "color": {"field": "g", "type": "nominal", "scale": {"domain": ["pGPH1-NC","pGPH1-AKIP1","pGPH1-NC|&CXCL1","pGPH1-AKIP1|&CXCL1","pGPH1-NC|&CXCL2","pGPH1-AKIP1|&CXCL2","pGPH1-NC|&CXCL8","pGPH1-AKIP1|&CXCL8"], "range": ["#707070","#D88A44","#40A2B6","#4646B0","#C4464C","#A4A444","#448C44","#FFA448"]}, "legend": null}}},
            {"data": {"name": "sig"}, "transform": [{"filter": "datum.p === 'F'"}], "mark": {"type": "rule", "color": "#5a5a5a", "strokeWidth": 1.6},
             "encoding": {"x": {"field": "a", "type": "nominal", "scale": {"domain": ["pGPH1-NC","pGPH1-AKIP1","pGPH1-NC|&CXCL1","pGPH1-AKIP1|&CXCL1","pGPH1-NC|&CXCL2","pGPH1-AKIP1|&CXCL2","pGPH1-NC|&CXCL8","pGPH1-AKIP1|&CXCL8"]}, "axis": {"orient": "bottom", "offset": 57, "labels": false, "ticks": false, "title": "Radiation (6 Gy)  treatment", "titleFontSize": 10, "titlePadding": 3}},
                          "x2": {"field": "b"},
                          "y": {"field": "y", "type": "quantitative", "scale": {"domain": [0, 300], "nice": false}, "axis": null}}},
            {"data": {"name": "sig"}, "transform": [{"filter": "datum.p === 'F'"}], "mark": {"type": "text", "fontWeight": "bold", "baseline": "middle", "dy": -5, "color": "#1a1a1a"},
             "encoding": {"x": {"field": "m", "type": "nominal", "scale": {"domain": ["pGPH1-NC","pGPH1-AKIP1","pGPH1-NC|&CXCL1","pGPH1-AKIP1|&CXCL1","pGPH1-NC|&CXCL2","pGPH1-AKIP1|&CXCL2","pGPH1-NC|&CXCL8","pGPH1-AKIP1|&CXCL8"]}, "axis": null},
                          "y": {"field": "y", "type": "quantitative", "scale": {"domain": [0, 300], "nice": false}, "axis": null},
                          "text": {"field": "s"},
                          "size": {"field": "s", "type": "nominal", "scale": {"type": "ordinal", "domain": ["*", "**", "NS"], "range": [13, 13, 8]}, "legend": null}}}
          ]
        }
      ]
    }
  ]
}
